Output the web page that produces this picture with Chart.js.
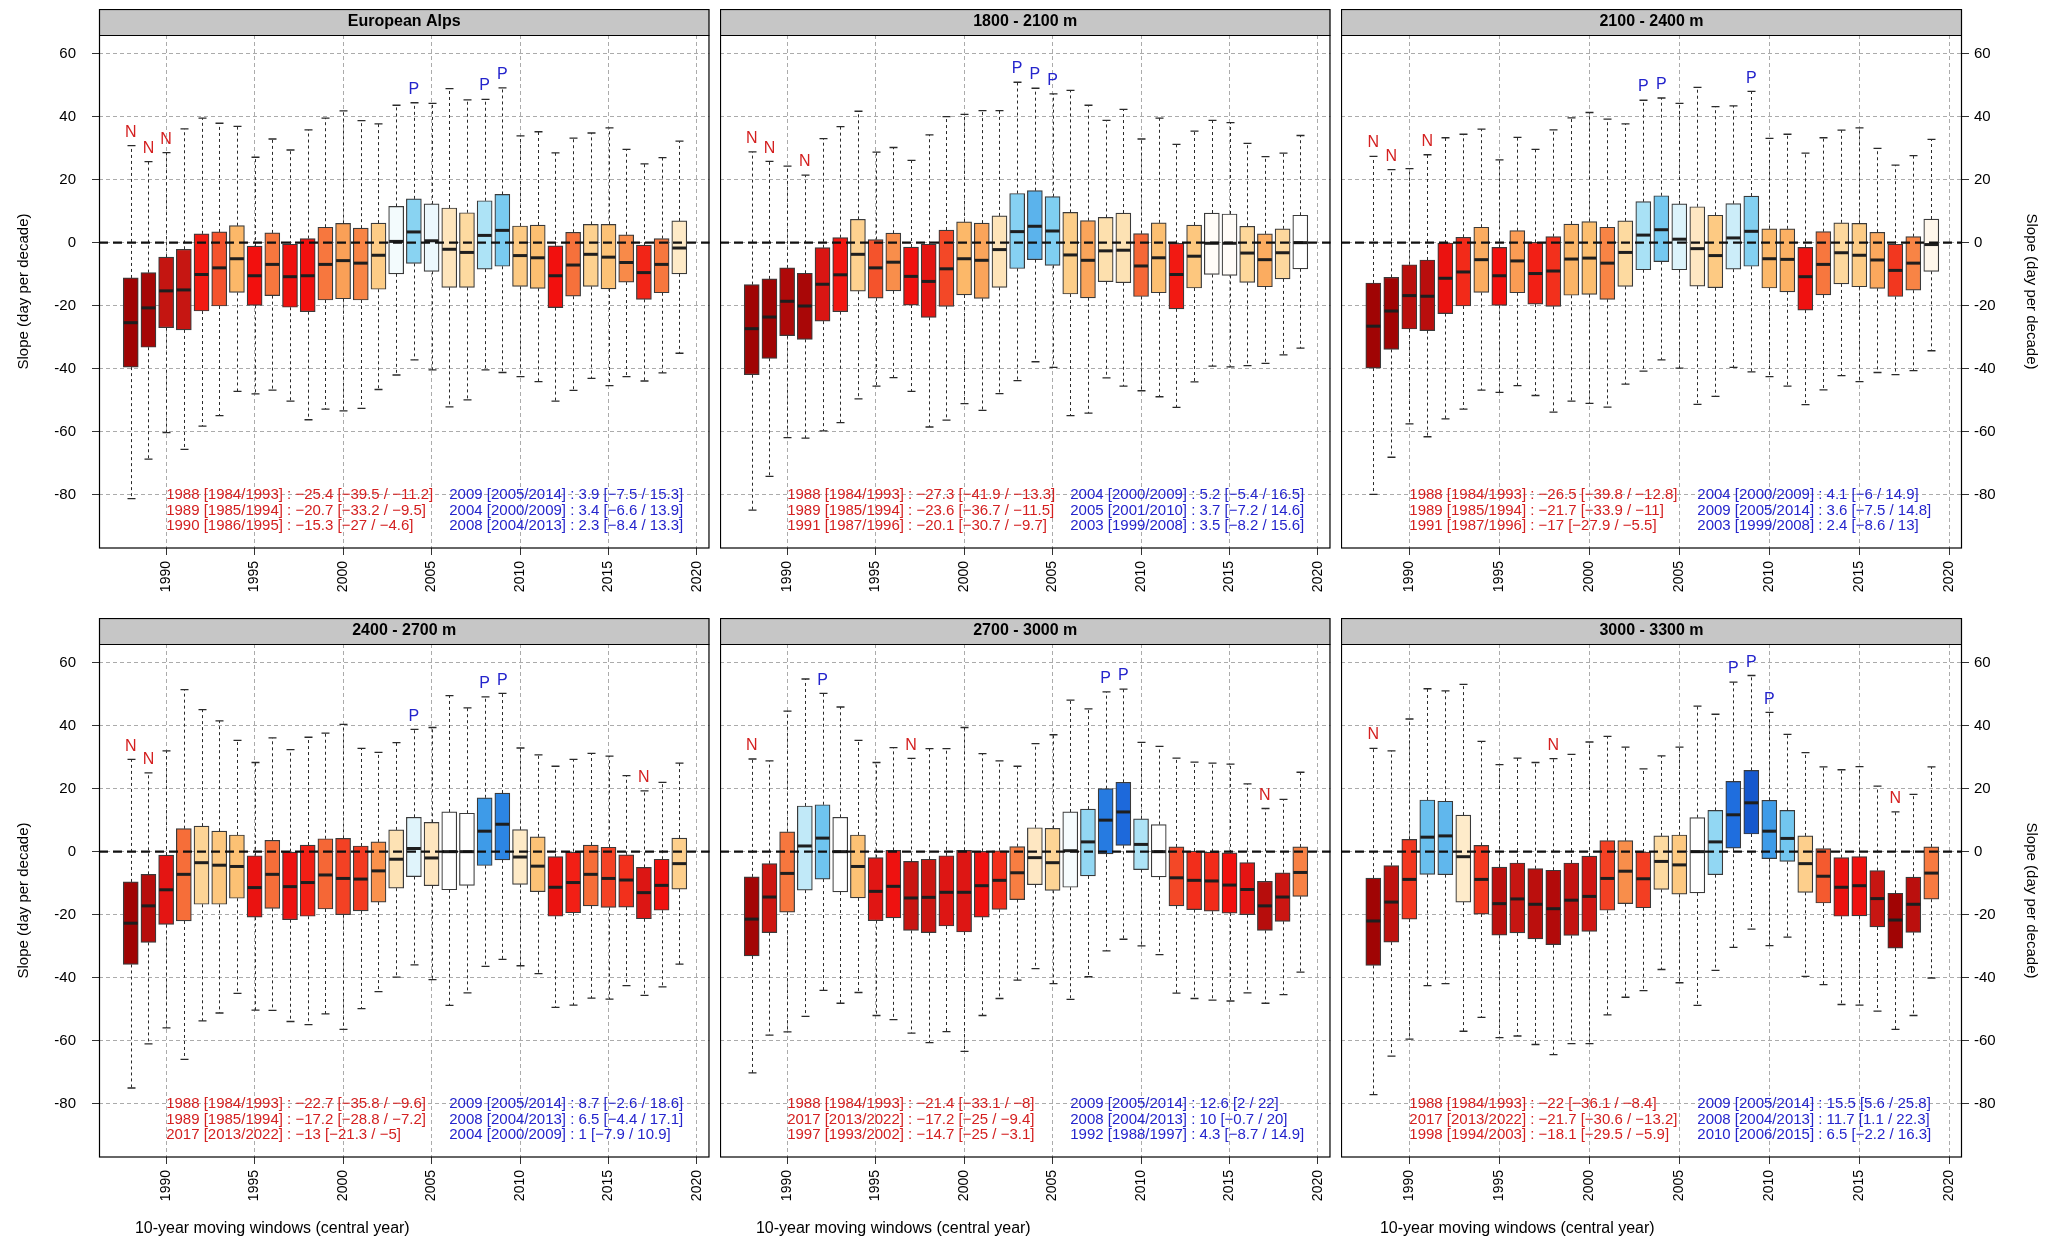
<!DOCTYPE html>
<html>
<head>
<meta charset="utf-8">
<script src="https://cdn.jsdelivr.net/npm/chart.js@4.4.1/dist/chart.umd.min.js"></script>
<style>
  html, body { margin: 0; padding: 0; background: #fff; }
  body { width: 2048px; height: 1244px; position: relative; overflow: hidden; }
  canvas { position: absolute; }
</style>
</head>
<body>
<script>
// central years of the 10-year moving windows
const years = [1988, 1989, 1990, 1991, 1992, 1993, 1994, 1995, 1996, 1997, 1998, 1999, 2000, 2001, 2002, 2003,
               2004, 2005, 2006, 2007, 2008, 2009, 2010, 2011, 2012, 2013, 2014, 2015, 2016, 2017, 2018, 2019];
const xTicks = [1990, 1995, 2000, 2005, 2010, 2015, 2020];
const yTicks = [-80, -60, -40, -20, 0, 20, 40, 60];
const panelTitles = ['European Alps', '1800 - 2100 m', '2100 - 2400 m', '2400 - 2700 m', '2700 - 3000 m', '3000 - 3300 m'];

// European Alps
const alpsMax = [30.8, 25.7, 28.6, 36.1, 39.5, 37.9, 36.9, 27.1, 32.9, 29.4, 35.8, 39.5, 41.8, 38.7, 37.7, 43.6, 44.4, 44.2, 48.9, 45.3, 45.5, 49.1, 33.9, 35.2, 28.5, 33.2, 34.8, 36.4, 29.6, 25.0, 27.0, 32.2];
const alpsQ3 = [-11.2, -9.5, -4.6, -2.1, 2.8, 3.4, 5.4, -1.1, 3.1, -0.5, 1.3, 4.9, 6.1, 4.6, 6.2, 11.5, 13.9, 12.3, 11.0, 9.5, 13.3, 15.3, 5.3, 5.6, -1.0, 3.3, 5.8, 5.8, 2.5, -0.8, 1.3, 6.9];
const alpsMed = [-25.4, -20.7, -15.3, -15.0, -10.1, -8.0, -5.1, -10.5, -6.9, -10.8, -10.5, -6.9, -5.7, -6.5, -4.0, 0.4, 3.4, 0.6, -2.1, -3.1, 2.3, 3.9, -4.1, -4.8, -10.5, -7.1, -3.7, -4.6, -6.3, -9.5, -6.9, -1.7];
const alpsQ1 = [-39.5, -33.2, -27, -27.7, -21.7, -20.1, -15.8, -19.9, -16.8, -20.5, -21.9, -18.2, -17.8, -18.2, -14.8, -9.9, -6.6, -9.1, -14.2, -14.2, -8.4, -7.5, -13.9, -14.5, -20.6, -17.0, -13.9, -14.7, -12.5, -18.0, -15.9, -9.9];
const alpsMin = [-81.2, -68.7, -60.3, -65.6, -58.2, -54.9, -47.2, -48.0, -46.8, -50.3, -56.2, -52.8, -53.4, -52.6, -46.6, -42.0, -37.2, -40.4, -52.1, -49.9, -40.4, -41.2, -42.5, -44.1, -50.3, -46.9, -43.1, -45.4, -42.5, -43.9, -41.3, -35.1];

// 1800 - 2100 m
const z1800Max = [28.8, 25.8, 24.3, 21.4, 33.0, 36.8, 41.7, 28.7, 30.2, 26.1, 34.2, 40.0, 40.7, 41.9, 41.9, 50.9, 49.0, 47.2, 48.3, 43.6, 38.8, 42.3, 32.9, 39.5, 31.2, 35.4, 38.8, 38.1, 31.5, 27.3, 28.4, 34.0];
const z1800Q3 = [-13.3, -11.5, -8.0, -9.7, -1.6, 1.6, 7.4, 1.0, 3.0, -1.4, -0.5, 4.0, 6.6, 6.2, 8.5, 15.6, 16.5, 14.6, 9.6, 7.0, 8.0, 9.4, 2.9, 6.3, -0.2, 5.6, 9.4, 9.1, 5.2, 2.8, 4.4, 8.7];
const z1800Med = [-27.3, -23.6, -18.6, -20.1, -13.2, -10.2, -3.7, -8.0, -6.2, -10.7, -12.3, -8.3, -5.1, -5.6, -2.2, 3.5, 5.2, 3.7, -3.9, -5.6, -2.6, -2.4, -7.4, -4.8, -10.1, -4.3, -0.2, -0.2, -3.3, -5.4, -3.2, 0.0];
const z1800Q1 = [-41.9, -36.7, -29.5, -30.7, -24.9, -21.9, -15.4, -17.6, -15.3, -19.8, -23.7, -20.2, -16.6, -17.7, -14.2, -8.2, -5.4, -7.2, -16.3, -17.5, -12.4, -12.7, -17.1, -15.9, -21.0, -14.4, -10.1, -10.4, -12.6, -14.0, -11.5, -8.3];
const z1800Min = [-84.9, -74.2, -61.9, -62.0, -59.7, -57.1, -49.6, -45.5, -42.8, -47.2, -58.5, -56.3, -51.1, -53.2, -47.9, -43.8, -37.8, -39.6, -54.9, -54.1, -42.9, -45.5, -47.0, -48.9, -52.3, -44.2, -39.2, -39.4, -39.0, -38.3, -35.6, -33.5];

// 2100 - 2400 m
const z2100Max = [27.4, 23.2, 23.5, 27.9, 33.3, 34.4, 36.0, 26.3, 33.4, 29.6, 35.8, 39.6, 41.3, 39.2, 37.7, 45.2, 45.9, 44.2, 49.3, 43.2, 43.4, 48.0, 33.1, 34.4, 28.4, 33.3, 35.7, 36.4, 29.9, 24.6, 27.6, 32.8];
const z2100Q3 = [-12.8, -11, -7.0, -5.5, -0.1, 1.7, 4.9, -1.5, 3.8, 0.1, 1.9, 5.9, 6.7, 4.9, 6.9, 13, 14.9, 12.3, 11.4, 8.7, 12.4, 14.8, 4.4, 4.4, -1.5, 3.5, 6.3, 6.1, 3.3, -0.5, 1.9, 7.5];
const z2100Med = [-26.5, -21.7, -16.8, -17, -11.3, -9.3, -5.4, -10.5, -5.8, -9.8, -9.0, -5.2, -4.9, -6.5, -3.1, 2.4, 4.1, 1.1, -1.9, -4.1, 1.5, 3.6, -5.1, -5.3, -10.8, -6.9, -3.2, -4.0, -5.5, -8.8, -6.5, -0.6];
const z2100Q1 = [-39.8, -33.9, -27.4, -27.9, -22.5, -20.1, -15.8, -19.9, -15.9, -19.5, -20.2, -16.7, -16.4, -18.0, -13.9, -8.6, -6, -8.6, -13.8, -14.3, -8.4, -7.5, -14.4, -15.6, -21.4, -16.6, -13.1, -14.0, -14.5, -17.1, -15.1, -9.1];
const z2100Min = [-79.9, -68.1, -57.5, -61.6, -55.9, -52.8, -46.8, -47.5, -45.4, -48.5, -53.8, -50.3, -51.0, -52.2, -44.9, -40.8, -37.2, -39.8, -51.3, -48.8, -39.6, -41.0, -42.5, -45.5, -51.4, -46.7, -42.2, -44.1, -41.2, -41.9, -40.6, -34.3];

// 2400 - 2700 m
const z2400Max = [29.3, 25.0, 32.0, 51.4, 45.1, 41.5, 35.3, 28.3, 36.1, 32.4, 36.3, 37.6, 40.4, 32.8, 31.5, 34.6, 38.8, 39.4, 49.5, 45.6, 49.1, 50.2, 32.9, 30.7, 27.1, 29.3, 31.2, 30.3, 24.1, 19.3, 22.0, 28.1];
const z2400Q3 = [-9.6, -7.2, -1.1, 7.3, 8.1, 6.5, 5.3, -1.3, 3.6, 0.0, 2.1, 4.1, 4.2, 1.8, 3.1, 6.9, 10.9, 9.3, 12.6, 12.2, 17.1, 18.6, 7.0, 4.7, -1.6, 0.0, 2.1, 1.4, -1.0, -5, -2.4, 4.3];
const z2400Med = [-22.7, -17.2, -12.1, -7.2, -3.5, -4.3, -4.7, -11.4, -7.2, -11.1, -9.8, -7.4, -8.5, -8.7, -6.1, -2.4, 1, -2.0, 0.0, 0.0, 6.5, 8.7, -1.7, -4.6, -11.3, -9.8, -7.2, -8.5, -9.0, -13, -10.7, -3.8];
const z2400Q1 = [-35.8, -28.8, -23.1, -22.0, -16.7, -16.7, -14.8, -20.8, -18.0, -21.6, -20.5, -18.2, -20.0, -18.8, -16.0, -11.6, -7.9, -10.8, -12.1, -10.7, -4.4, -2.6, -10.4, -12.7, -20.5, -19.4, -17.2, -17.7, -17.6, -21.3, -18.6, -11.9];
const z2400Min = [-75.0, -61.0, -55.9, -65.9, -53.7, -51.2, -45.0, -50.3, -50.4, -53.9, -54.9, -51.5, -56.4, -49.8, -44.4, -39.8, -35.9, -40.6, -48.8, -44.8, -36.4, -34.2, -36.2, -38.7, -49.4, -48.7, -46.5, -46.8, -42.5, -45.6, -42.9, -35.7];

// 2700 - 3000 m
const z2700Max = [29.4, 28.8, 44.6, 54.8, 50.2, 45.9, 35.3, 28.3, 33.0, 29.6, 32.7, 32.7, 39.4, 31.1, 28.8, 27.1, 34.3, 37.1, 48.1, 45.3, 50.7, 51.6, 34.7, 33.4, 29.7, 28.4, 28.1, 27.8, 21.5, 13.7, 16.6, 25.2];
const z2700Q3 = [-8, -3.8, 6.3, 14.5, 14.9, 10.9, 5.3, -1.9, 0.4, -3.1, -2.4, -1.3, 0.4, 0.1, 0.3, 1.6, 7.6, 7.4, 12.6, 13.5, 20, 22, 10.4, 8.6, 1.5, 0.2, 0.0, -0.4, -3.5, -9.4, -6.7, 1.5];
const z2700Med = [-21.4, -14.4, -6.9, 1.8, 4.3, 0.0, -4.7, -12.6, -11.0, -14.7, -14.5, -12.9, -12.9, -10.8, -9.1, -6.7, -1.9, -3.5, 0.3, 3.1, 10, 12.6, 2.3, 0.0, -8.3, -9.1, -9.3, -10.6, -12.0, -17.2, -14.4, -6.6];
const z2700Q1 = [-33.1, -25.7, -19.2, -12.2, -8.7, -12.8, -14.7, -21.9, -21.0, -25, -25.7, -23.6, -25.5, -20.8, -18.3, -15.2, -10.5, -12.3, -11.3, -7.7, -0.7, 2, -5.7, -8.0, -17.2, -18.4, -18.9, -19.5, -20.0, -25, -22.1, -14.2];
const z2700Min = [-70.2, -58.2, -57.2, -52.3, -44.0, -48.1, -44.7, -52.0, -53.3, -57.6, -60.6, -57.1, -63.4, -52.0, -46.6, -40.8, -37.1, -41.9, -46.9, -39.7, -31.5, -27.8, -29.9, -32.7, -44.9, -46.6, -47.1, -47.4, -44.8, -48.1, -45.4, -38.2];

// 3000 - 3300 m
const z3000Max = [32.8, 32.0, 42.1, 51.7, 51.0, 53.1, 35.0, 27.6, 29.7, 28.3, 29.5, 30.9, 34.8, 36.6, 33.2, 26.3, 30.4, 33.2, 46.2, 43.6, 53.8, 55.9, 44.2, 37.2, 31.4, 26.9, 26.0, 27.0, 20.8, 12.6, 18.2, 26.9];
const z3000Q3 = [-8.4, -4.4, 3.9, 16.4, 16.0, 11.6, 2.0, -4.9, -3.6, -5.4, -5.9, -3.6, -1.4, 3.5, 3.5, -0.1, 5.0, 5.3, 10.8, 13.1, 22.3, 25.8, 16.3, 13.1, 5.0, 1.0, -1.9, -1.6, -6.0, -13.2, -8.1, 1.5];
const z3000Med = [-22, -16.0, -8.8, 4.6, 5.0, -1.6, -8.8, -16.5, -15.0, -16.7, -18.1, -15.4, -14.2, -8.5, -6.2, -8.6, -3.1, -4.2, 0.0, 3.1, 11.7, 15.5, 6.5, 4.2, -3.8, -7.8, -11.3, -10.8, -14.9, -21.7, -16.7, -6.8];
const z3000Q1 = [-36.1, -28.7, -21.4, -7.2, -7.3, -16.0, -19.8, -26.5, -25.8, -27.7, -29.5, -26.6, -25.3, -18.6, -16.5, -17.8, -12.0, -13.5, -13.1, -7.3, 1.1, 5.6, -2.2, -3.1, -12.9, -16.3, -20.5, -20.4, -23.9, -30.6, -25.6, -15.1];
const z3000Min = [-77.1, -64.9, -59.5, -42.5, -41.9, -57.0, -52.6, -59.0, -58.5, -61.2, -64.4, -60.9, -60.9, -51.8, -46.2, -44.1, -37.4, -41.6, -48.8, -37.7, -30.4, -24.6, -29.8, -27.1, -39.6, -42.2, -48.5, -48.7, -50.6, -56.4, -52.0, -40.1];

const panels = [
    { title: panelTitles[0], max: alpsMax, q3: alpsQ3, med: alpsMed, q1: alpsQ1, min: alpsMin },
    { title: panelTitles[1], max: z1800Max, q3: z1800Q3, med: z1800Med, q1: z1800Q1, min: z1800Min },
    { title: panelTitles[2], max: z2100Max, q3: z2100Q3, med: z2100Med, q1: z2100Q1, min: z2100Min },
    { title: panelTitles[3], max: z2400Max, q3: z2400Q3, med: z2400Med, q1: z2400Q1, min: z2400Min },
    { title: panelTitles[4], max: z2700Max, q3: z2700Q3, med: z2700Med, q1: z2700Q1, min: z2700Min },
    { title: panelTitles[5], max: z3000Max, q3: z3000Q3, med: z3000Med, q1: z3000Q1, min: z3000Min },
];

// page layout (px)
const colLeft = [0, 720, 1341];
const colWidth = [720, 621, 707];
const yAxisWidth = [99, 0, 86];
const rowTop = [9, 618];
const rowHeight = [596, 626];
const xAxisHeight = [57, 87];
const xMin = 1986.206, xMax = 2020.706;
const yMin = -96.9, yMax = 65.9;

const gridGrey = '#ababab';
const stripGrey = '#c6c6c6';
const redText = '#d42020';
const blueText = '#2424cc';

// box fill follows the median: dark red -> orange -> white -> blue
const colourStops = [
    [-22, [160, 4, 4]],
    [-18, [178, 10, 10]],
    [-15, [198, 22, 18]],
    [-12.5, [225, 22, 20]],
    [-10.5, [242, 16, 14]],
    [-9, [242, 48, 28]],
    [-7.5, [245, 100, 52]],
    [-6, [249, 148, 78]],
    [-5, [252, 188, 108]],
    [-4, [253, 204, 134]],
    [-3, [253, 219, 163]],
    [-1.5, [254, 236, 205]],
    [0, [255, 255, 255]],
    [1, [224, 244, 251]],
    [2.5, [165, 224, 245]],
    [4, [118, 202, 240]],
    [6.5, [62, 155, 232]],
    [9, [42, 130, 226]],
    [12, [30, 108, 222]],
    [15.5, [22, 88, 205]],
];

function colourFor(m) {
    const s = colourStops;
    if (m <= s[0][0]) return 'rgb(' + s[0][1].join(',') + ')';
    for (let i = 1; i < s.length; i++) {
        if (m <= s[i][0]) {
            const t = (m - s[i - 1][0]) / (s[i][0] - s[i - 1][0]);
            const c = s[i - 1][1].map((v, k) => Math.round(v + t * (s[i][1][k] - v)));
            return 'rgb(' + c.join(',') + ')';
        }
    }
    return 'rgb(' + s[s.length - 1][1].join(',') + ')';
}

function fmt(v) {
    return (v < 0 ? '\u2212' : '') + Math.abs(v);
}

function windowText(p, i) {
    const yr = years[i];
    return yr + ' [' + (yr - 4) + '/' + (yr + 5) + '] : ' + fmt(p.med[i]) + ' [' + fmt(p.q1[i]) + ' / ' + fmt(p.q3[i]) + ']';
}

// three lowest and three highest medians of a panel
function extremes(p) {
    const idx = years.map((_, i) => i);
    const low = idx.slice().sort((a, b) => p.med[a] - p.med[b]).slice(0, 3);
    const high = idx.slice().sort((a, b) => p.med[b] - p.med[a]).slice(0, 3);
    return { low, high };
}

Chart.defaults.font.family = "'Liberation Sans', Arial, Helvetica, sans-serif";
Chart.defaults.color = '#000';

const boxExtras = {
    id: 'boxExtras',
    beforeDraw(chart) {
        const { ctx, chartArea: ca } = chart;
        ctx.save();
        ctx.fillStyle = stripGrey;
        ctx.fillRect(ca.left, 0, ca.right - ca.left, ca.top);
        ctx.restore();
    },
    afterDatasetsDraw(chart) {
        const p = panels[Number(chart.canvas.dataset.panel)];
        const { ctx, chartArea: ca } = chart;
        const xs = chart.scales.x, ys = chart.scales.y;
        ctx.save();
        years.forEach((yr, i) => {
            const xc = xs.getPixelForValue(yr);
            const x = Math.round(xc) + 0.5;
            const yTop = ys.getPixelForValue(p.max[i]);
            const yBot = ys.getPixelForValue(p.min[i]);
            // whiskers
            ctx.strokeStyle = '#2a2a2a';
            ctx.lineWidth = 1;
            ctx.setLineDash([3, 3]);
            ctx.beginPath();
            ctx.moveTo(x, ys.getPixelForValue(p.q3[i]));
            ctx.lineTo(x, yTop);
            ctx.moveTo(x, ys.getPixelForValue(p.q1[i]));
            ctx.lineTo(x, yBot);
            ctx.stroke();
            // caps
            ctx.setLineDash([]);
            ctx.lineWidth = 1.3;
            ctx.beginPath();
            ctx.moveTo(x - 4, yTop);
            ctx.lineTo(x + 4, yTop);
            ctx.moveTo(x - 4, yBot);
            ctx.lineTo(x + 4, yBot);
            ctx.stroke();
            // median
            const ym = ys.getPixelForValue(p.med[i]);
            ctx.strokeStyle = '#1e1e1e';
            ctx.lineWidth = 3;
            ctx.beginPath();
            ctx.moveTo(xc - 7, ym);
            ctx.lineTo(xc + 7, ym);
            ctx.stroke();
        });
        // zero line
        const y0 = ys.getPixelForValue(0);
        ctx.strokeStyle = '#111';
        ctx.lineWidth = 2.2;
        ctx.setLineDash([9, 5]);
        ctx.beginPath();
        ctx.moveTo(ca.left, y0);
        ctx.lineTo(ca.right, y0);
        ctx.stroke();
        ctx.restore();
    },
    afterDraw(chart) {
        const n = Number(chart.canvas.dataset.panel);
        const p = panels[n];
        const { ctx, chartArea: ca } = chart;
        const xs = chart.scales.x, ys = chart.scales.y;
        const ex = extremes(p);
        ctx.save();
        // N / P markers above the whiskers
        ctx.font = "16px 'Liberation Sans', Arial, sans-serif";
        ctx.textAlign = 'center';
        ctx.textBaseline = 'middle';
        ex.low.forEach(i => {
            ctx.fillStyle = redText;
            ctx.fillText('N', xs.getPixelForValue(years[i]), ys.getPixelForValue(p.max[i] + 4.2));
        });
        ex.high.forEach(i => {
            ctx.fillStyle = blueText;
            ctx.fillText('P', xs.getPixelForValue(years[i]), ys.getPixelForValue(p.max[i] + 4.2));
        });
        // window summaries
        ctx.font = "15px 'Liberation Sans', Arial, sans-serif";
        ctx.textAlign = 'left';
        ex.low.forEach((i, k) => {
            ctx.fillStyle = redText;
            ctx.fillText(windowText(p, i), xs.getPixelForValue(1990), ys.getPixelForValue(-80 - 5 * k));
        });
        ex.high.forEach((i, k) => {
            ctx.fillStyle = blueText;
            ctx.fillText(windowText(p, i), xs.getPixelForValue(2006), ys.getPixelForValue(-80 - 5 * k));
        });
        // frames
        ctx.strokeStyle = '#000';
        ctx.lineWidth = 1.2;
        ctx.strokeRect(ca.left + 0.5, 0.5, ca.right - ca.left - 1, ca.bottom - 0.5);
        ctx.beginPath();
        ctx.moveTo(ca.left, ca.top + 0.5);
        ctx.lineTo(ca.right, ca.top + 0.5);
        ctx.stroke();
        // x-axis title on the lower row
        if (n >= 3) {
            ctx.font = "16px 'Liberation Sans', Arial, sans-serif";
            ctx.textAlign = 'center';
            ctx.fillStyle = '#000';
            ctx.fillText('10-year moving windows (central year)', xs.getPixelForValue(1996), chart.height - 15);
        }
        ctx.restore();
    }
};

function buildPanel(n) {
    const p = panels[n];
    const col = n % 3;
    const row = Math.floor(n / 3);
    const canvas = document.createElement('canvas');
    canvas.width = colWidth[col];
    canvas.height = rowHeight[row];
    canvas.style.left = colLeft[col] + 'px';
    canvas.style.top = rowTop[row] + 'px';
    canvas.dataset.panel = n;
    document.body.appendChild(canvas);

    return new Chart(canvas, {
        type: 'bar',
        data: {
            datasets: [{
                data: years.map((yr, i) => ({ x: yr, y: [p.q1[i], p.q3[i]] })),
                backgroundColor: p.med.map(colourFor),
                borderColor: '#3a3a3a',
                borderWidth: 1.2,
                borderSkipped: false,
                barThickness: 15,
            }]
        },
        options: {
            responsive: false,
            animation: false,
            devicePixelRatio: 1,
            layout: { padding: 0 },
            plugins: {
                legend: { display: false },
                tooltip: { enabled: false },
                title: {
                    display: true,
                    text: p.title,
                    fullSize: false,
                    color: '#000',
                    font: { size: 16, weight: 'bold', lineHeight: 1.25 },
                    padding: { top: 3, bottom: 3 },
                },
            },
            scales: {
                x: {
                    type: 'linear',
                    position: 'bottom',
                    min: xMin,
                    max: xMax,
                    offset: false,
                    afterBuildTicks: s => { s.ticks = xTicks.map(v => ({ value: v })); },
                    afterFit: s => { s.height = xAxisHeight[row]; },
                    ticks: {
                        autoSkip: false,
                        minRotation: 90,
                        maxRotation: 90,
                        padding: 6,
                        font: { size: 14 },
                        color: '#000',
                        callback: v => String(v),
                    },
                    grid: { color: gridGrey, offset: false, tickLength: 7, tickColor: '#333', drawTicks: true },
                    border: { display: false, dash: [4, 3] },
                },
                y: {
                    type: 'linear',
                    position: col === 2 ? 'right' : 'left',
                    min: yMin,
                    max: yMax,
                    afterBuildTicks: s => { s.ticks = yTicks.map(v => ({ value: v })); },
                    afterFit: s => { s.width = yAxisWidth[col]; },
                    ticks: {
                        display: col !== 1,
                        padding: col === 2 ? 5 : 16,
                        font: { size: 15 },
                        color: '#000',
                        callback: v => String(v),
                    },
                    grid: { color: gridGrey, drawTicks: col !== 1, tickLength: 7, tickColor: '#333' },
                    border: { display: false, dash: [4, 3] },
                    title: {
                        display: col !== 1,
                        text: 'Slope (day per decade)',
                        color: '#000',
                        font: { size: 15 },
                        padding: { top: col === 2 ? 8 : 14.5, bottom: 0 },
                    },
                },
            },
        },
        plugins: [boxExtras],
    });
}

panels.forEach((_, n) => buildPanel(n));
</script>
</body>
</html>
